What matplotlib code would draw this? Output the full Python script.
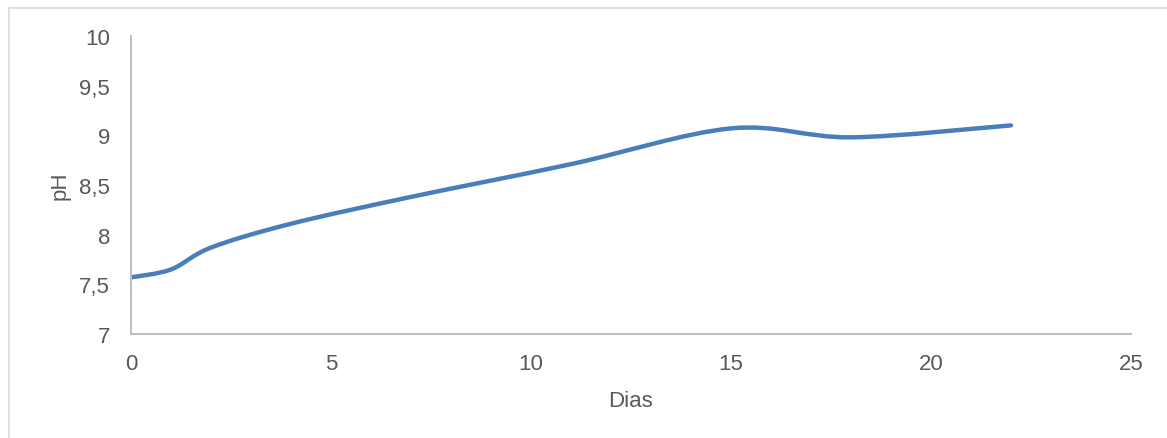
import numpy as np
import matplotlib
matplotlib.use("Agg")
import matplotlib.pyplot as plt
from matplotlib.path import Path
from matplotlib.patches import PathPatch
from matplotlib.lines import Line2D

plt.rcParams['font.family'] = ['Liberation Sans', 'DejaVu Sans']

# data
dias = [0, 1, 2, 4, 7, 11, 15, 18, 22]
ph = [7.57, 7.65, 7.87, 8.11, 8.38, 8.71, 9.07, 8.98, 9.10]

x_ticks = [0, 5, 10, 15, 20, 25]
y_ticks = [7, 7.5, 8, 8.5, 9, 9.5, 10]
y_labels = ['7', '7,5', '8', '8,5', '9', '9,5', '10']

line_color = '#4a7ebb'
text_color = '#595959'
axis_color = '#bfbfbf'


def smooth_path(xs, ys):
    # Excel-style smoothed line (Catmull-Rom as cubic Bezier)
    pts = np.column_stack([xs, ys]).astype(float)
    n = len(pts)
    verts = [pts[0]]
    codes = [Path.MOVETO]
    for i in range(n - 1):
        p0 = pts[i - 1] if i > 0 else pts[i]
        p1 = pts[i]
        p2 = pts[i + 1]
        p3 = pts[i + 2] if i + 2 < n else pts[i + 1]
        c1 = p1 + (p2 - p0) / 6
        c2 = p2 - (p3 - p1) / 6
        verts += [c1, c2, p2]
        codes += [Path.CURVE4] * 3
    return Path(verts, codes)


fig = plt.figure(figsize=(11.67, 4.39), dpi=100)
ax = fig.add_axes([131 / 1167, 1 - 335 / 439, 1000 / 1167, 298 / 439])

ax.add_patch(PathPatch(smooth_path(dias, ph), fill=False, edgecolor=line_color,
                       linewidth=3.2, capstyle='round', joinstyle='round'))

ax.set_xlim(0, 25)
ax.set_ylim(7, 10)
ax.set_xticks(x_ticks)
ax.set_yticks(y_ticks)
ax.set_yticklabels(y_labels)
ax.tick_params(length=0, labelsize=16, colors=text_color)
ax.tick_params(axis='y', pad=15)
ax.tick_params(axis='x', pad=14)

for side in ['top', 'right']:
    ax.spines[side].set_visible(False)
for side in ['left', 'bottom']:
    ax.spines[side].set_color(axis_color)
    ax.spines[side].set_linewidth(1.5)

ax.set_xlabel('Dias', fontsize=16, color=text_color, labelpad=11)
ax.set_ylabel('pH', fontsize=16, color=text_color, labelpad=6)

# outer chart border (top and left visible)
fig.add_artist(Line2D([8.5 / 1167, 8.5 / 1167], [0, 1 - 8.5 / 439],
                      transform=fig.transFigure, color='#d9d9d9', linewidth=1.2))
fig.add_artist(Line2D([8.5 / 1167, 1], [1 - 8.5 / 439, 1 - 8.5 / 439],
                      transform=fig.transFigure, color='#d9d9d9', linewidth=1.2))

fig.savefig('out.png', dpi=100)
